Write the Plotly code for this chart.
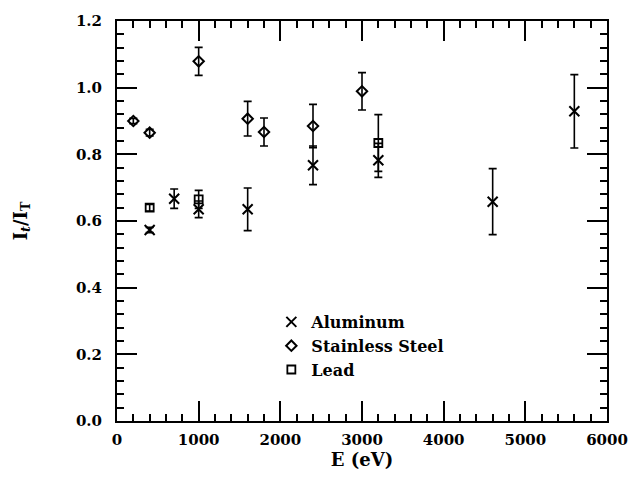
import plotly.graph_objects as go

# Aluminum
al_e = [400, 700, 1000, 1600, 2400, 3200, 4600, 5600]
al_r = [0.573, 0.667, 0.635, 0.635, 0.767, 0.782, 0.658, 0.929]
al_err = [0.008, 0.029, 0.025, 0.064, 0.058, 0.051, 0.099, 0.11]

# Stainless Steel
ss_e = [200, 400, 1000, 1600, 1800, 2400, 3000]
ss_r = [0.900, 0.865, 1.079, 0.907, 0.867, 0.885, 0.989]
ss_err = [0.008, 0.010, 0.042, 0.052, 0.042, 0.065, 0.056]

# Lead
pb_e = [400, 1000, 3200]
pb_r = [0.640, 0.665, 0.834]
pb_err = [0.010, 0.027, 0.085]

x_ticks = [0, 1000, 2000, 3000, 4000, 5000, 6000]
y_ticks = [0.0, 0.2, 0.4, 0.6, 0.8, 1.0, 1.2]
y_tick_text = ["0.0", "0.2", "0.4", "0.6", "0.8", "1.0", "1.2"]

serif = "DejaVu Serif"

def err(vals):
    return dict(type="data", array=vals, visible=True, color="black",
                thickness=1.6, width=4)

fig = go.Figure()
fig.add_trace(go.Scatter(
    x=al_e, y=al_r, mode="markers", name="Aluminum",
    error_y=err(al_err),
    marker=dict(symbol="x-thin-open", size=10, color="black",
                line=dict(color="black", width=2))))
fig.add_trace(go.Scatter(
    x=ss_e, y=ss_r, mode="markers", name="Stainless Steel",
    error_y=err(ss_err),
    marker=dict(symbol="diamond-open", size=8, color="black",
                line=dict(color="black", width=2))))
fig.add_trace(go.Scatter(
    x=pb_e, y=pb_r, mode="markers", name="Lead",
    error_y=err(pb_err),
    marker=dict(symbol="square-open", size=8, color="black",
                line=dict(color="black", width=1.8))))

axis_common = dict(
    showgrid=False, zeroline=False, showline=True, linecolor="black",
    linewidth=2, mirror="allticks", ticks="inside", tickcolor="black",
    tickwidth=1.5, ticklen=20,
    tickfont=dict(family=serif, size=15, color="black", weight="bold"),
)

fig.update_xaxes(
    range=[0, 6000], tickvals=x_ticks, ticktext=[str(v) for v in x_ticks],
    minor=dict(dtick=200, ticks="inside", ticklen=7, tickcolor="black", tickwidth=1.5),
    title=dict(text="E (eV)", font=dict(family=serif, size=18, color="black", weight="bold"),
               standoff=4),
    ticklabelstandoff=4,
    **axis_common)
fig.update_yaxes(
    range=[0, 1.2], tickvals=y_ticks, ticktext=y_tick_text,
    minor=dict(dtick=0.04, ticks="inside", ticklen=7, tickcolor="black", tickwidth=1.5),
    title=dict(text="I<sub><i>t</i></sub>/I<sub>T</sub>",
               font=dict(family=serif, size=18, color="black", weight="bold"),
               standoff=44),
    ticklabelstandoff=10,
    **axis_common)

fig.update_layout(
    width=641, height=479,
    margin=dict(l=117, r=34, t=16, b=58),
    paper_bgcolor="white", plot_bgcolor="white",
    showlegend=True,
    legend=dict(x=0.315, y=0.29, xanchor="left", yanchor="top",
                bgcolor="rgba(0,0,0,0)",
                font=dict(family=serif, size=16, color="black", weight="bold"),
                itemsizing="trace", itemwidth=30, tracegroupgap=0),
)

fig.write_html("out.html")
